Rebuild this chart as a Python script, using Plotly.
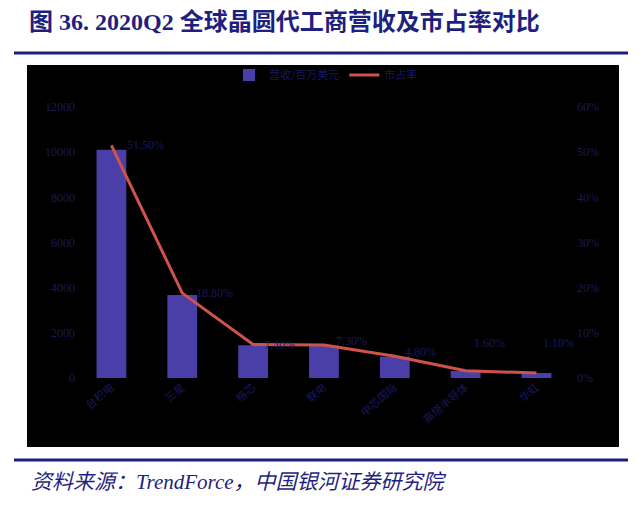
import plotly.graph_objects as go

companies = ["台积电", "三星", "格芯", "联电", "中芯国际", "高塔半导体", "华虹"]
revenue = [10105, 3678, 1452, 1440, 941, 310, 221]
share = [51.5, 18.8, 7.4, 7.3, 4.8, 1.6, 1.1]
share_labels = ["51.50%", "18.80%", "7.40%", "7.30%", "4.80%", "1.60%", "1.10%"]

navy = "#18185e"
fig = go.Figure()

fig.add_trace(go.Bar(
    x=companies, y=revenue, name="营收/百万美元",
    marker=dict(color="#4a3fa8", line=dict(width=0)), width=0.42,
))
fig.add_trace(go.Scatter(
    x=companies, y=share, name="市占率", yaxis="y2", mode="lines",
    line=dict(color="#cf534a", width=3),
))

# label offsets (px) for the share labels
xshift = [34, 32, 26, 28, 26, 24, 22]
yshift = [0, 0, 0, 4, 4, 28, 30]
for c, s, t, dx, dy in zip(companies, share, share_labels, xshift, yshift):
    fig.add_annotation(x=c, y=s, yref="y2", text=t, showarrow=False,
                       xshift=dx, yshift=dy, font=dict(size=12, color=navy,
                       family="Liberation Serif"))

# black panel and rules
fig.add_shape(type="rect", xref="paper", yref="paper", x0=-0.098, x1=1.086,
              y0=-0.255, y1=1.155, fillcolor="black", line_width=0, layer="below")
fig.add_shape(type="line", xref="paper", yref="paper", x0=-0.124, x1=1.104,
              y0=1.199, y1=1.199, line=dict(color="#1f1f7f", width=3))
fig.add_shape(type="line", xref="paper", yref="paper", x0=-0.124, x1=1.104,
              y0=-0.303, y1=-0.303, line=dict(color="#1f1f7f", width=3))

fig.add_annotation(xref="paper", yref="paper", x=-0.098, y=1.314, xanchor="left",
                   yanchor="middle", showarrow=False,
                   text="<b>图 36. 2020Q2 全球晶圆代工商营收及市占率对比</b>",
                   font=dict(size=24, color="#1f1f7f",
                             family="Liberation Serif, Noto Sans CJK SC"))
fig.add_annotation(xref="paper", yref="paper", x=-0.094, y=-0.384, xanchor="left",
                   yanchor="middle", showarrow=False,
                   text="<i>资料来源：TrendForce，中国银河证券研究院</i>",
                   font=dict(size=21, color="#1f1f7f",
                             family="Liberation Serif, Noto Sans CJK SC"))

fig.update_layout(
    width=624, height=489,
    margin=dict(l=68, r=56, t=99, b=119, autoexpand=False),
    paper_bgcolor="white", plot_bgcolor="black",
    showlegend=True,
    legend=dict(orientation="h", x=0.5, xanchor="center", y=1.118, yanchor="middle",
                bgcolor="rgba(0,0,0,0)", font=dict(size=11, color=navy,
                family="Noto Sans CJK SC")),
    xaxis=dict(tickangle=-40, tickfont=dict(size=11, color=navy,
               family="Noto Sans CJK SC"), showgrid=False, showline=False,
               ticks="", automargin=False),
    yaxis=dict(range=[0, 12000], dtick=2000, showgrid=False, zeroline=False,
               tickformat="d", automargin=False,
               tickfont=dict(size=12, color=navy, family="Liberation Serif"),
               ticks=""),
    yaxis2=dict(range=[0, 60], dtick=10, overlaying="y", side="right",
                showgrid=False, zeroline=False, ticksuffix="%", automargin=False,
                tickfont=dict(size=12, color=navy, family="Liberation Serif")),
)

fig.write_html("out.html")
